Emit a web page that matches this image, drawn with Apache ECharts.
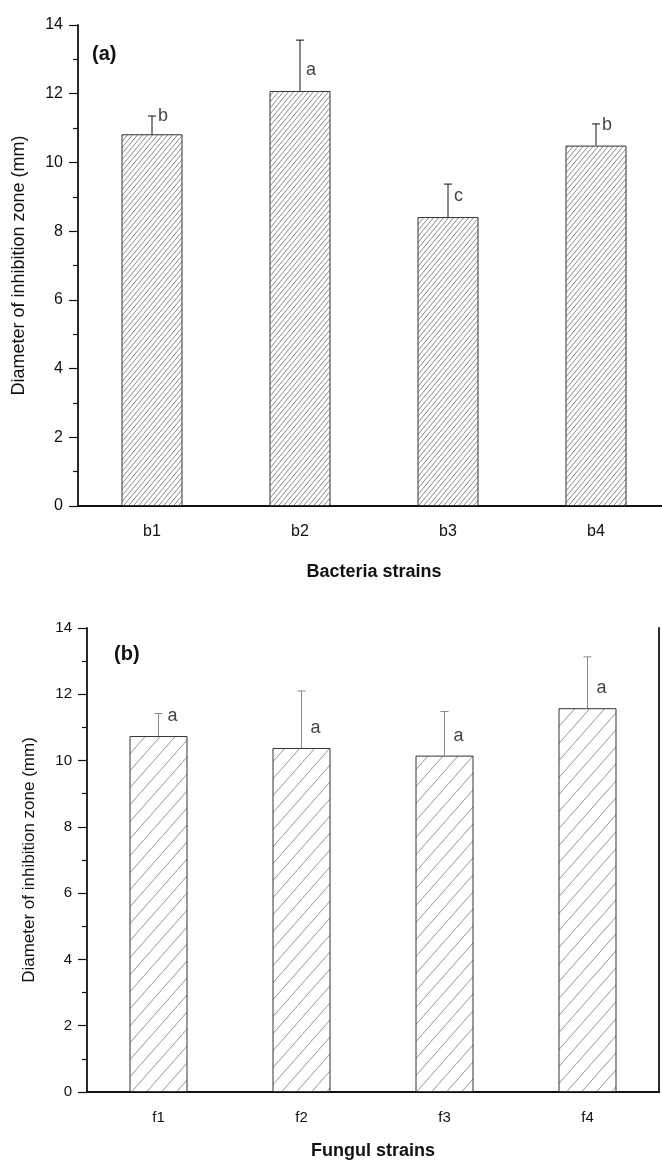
<!DOCTYPE html>
<html>
<head>
<meta charset="utf-8">
<script src="https://cdn.jsdelivr.net/npm/echarts@6/dist/echarts.min.js"></script>
<style>
html,body{margin:0;padding:0;background:#fff;overflow:hidden;width:662px;height:1161px;}
#c{width:700px;height:1161px;}
</style>
</head>
<body>
<div id="c"></div>
<script>
// Panel (a): bacteria strains
const catsA = ['b1', 'b2', 'b3', 'b4'];
const meanA = [10.82, 12.08, 8.41, 10.49];
const errA = [0.53, 1.48, 0.96, 0.63];
const letA = ['b', 'a', 'c', 'b'];
// Panel (b): fungal strains
const catsB = ['f1', 'f2', 'f3', 'f4'];
const meanB = [10.74, 10.38, 10.15, 11.58];
const errB = [0.68, 1.72, 1.33, 1.55];
const letB = ['a', 'a', 'a', 'a'];
// Y axis ticks
const yMin = 0, yMax = 14, yStep = 2;
const yTitle = 'Diameter of inhibition zone (mm)';

function hatch(w, h, color, lw) {
  const c = document.createElement('canvas');
  c.width = w; c.height = h;
  const g = c.getContext('2d');
  g.fillStyle = '#fff'; g.fillRect(0, 0, w, h);
  g.strokeStyle = color; g.lineWidth = lw;
  for (let k = -1; k <= 1; k++) {
    g.beginPath();
    g.moveTo(k * w, h);
    g.lineTo(k * w + w, 0);
    g.stroke();
  }
  return c;
}
const patA = hatch(5, 6, '#7a7a7a', 0.9);
const patB = hatch(15, 17, '#8a8a8a', 0.9);

const font = 'Liberation Sans, Arial, sans-serif';

function errRender(color) {
  return function (params, api) {
    const x = api.value(0), m = api.value(1), e = api.value(2);
    const b = api.coord([x, m]);
    const t = api.coord([x, m + e]);
    const st = { stroke: color, lineWidth: 1 };
    return {
      type: 'group', children: [
        { type: 'line', shape: { x1: b[0], y1: b[1], x2: t[0], y2: t[1] }, style: st },
        { type: 'line', shape: { x1: t[0] - 4, y1: t[1], x2: t[0] + 4, y2: t[1] }, style: st }
      ]
    };
  };
}

function xAx(idx, cats, name, gap, fs) {
  return [{
    type: 'category', gridIndex: idx, data: cats, position: 'bottom',
    axisLine: { lineStyle: { color: '#111', width: 1.8 } },
    axisTick: { alignWithLabel: true, length: 10, lineStyle: { color: '#111', width: 1.2 } },
    axisLabel: { color: '#111', fontSize: fs, fontFamily: font, margin: 18 },
    name: name, nameLocation: 'middle', nameGap: gap,
    nameTextStyle: { color: '#111', fontSize: 18, fontWeight: 'bold', fontFamily: font }
  }, {
    type: 'category', gridIndex: idx, data: cats, position: 'top',
    axisLine: { lineStyle: { color: '#111', width: 1.8 } },
    axisTick: { show: false }, axisLabel: { show: false }
  }];
}
function yAx(idx, gap, fs, nfs) {
  return [{
    type: 'value', gridIndex: idx, min: yMin, max: yMax, interval: yStep, position: 'left',
    axisLine: { show: true, lineStyle: { color: '#111', width: 1.8 } },
    axisTick: { show: true, length: 9, lineStyle: { color: '#111', width: 1.2 } },
    minorTick: { show: true, splitNumber: 2, length: 5, lineStyle: { color: '#111', width: 1.2 } },
    splitLine: { show: false },
    axisLabel: { color: '#111', fontSize: fs, fontFamily: font, margin: 15 },
    name: yTitle, nameLocation: 'middle', nameGap: gap, nameRotate: 90,
    nameTextStyle: { color: '#111', fontSize: nfs, fontFamily: font }
  }, {
    type: 'value', gridIndex: idx, min: yMin, max: yMax, interval: yStep, position: 'right',
    axisLine: { show: true, lineStyle: { color: '#111', width: 1.8 } },
    axisTick: { show: false }, axisLabel: { show: false }, splitLine: { show: false }
  }];
}

function panel(idx, cats, mean, err, lets, pat, bw, errColor, labDist, fs) {
  const xi = idx * 2, yi = idx * 2;
  return [
    {
      type: 'bar', xAxisIndex: xi, yAxisIndex: yi, data: mean, barWidth: bw,
      itemStyle: { color: { image: pat, repeat: 'repeat' }, borderColor: '#333', borderWidth: 1 },
      silent: true, animation: false
    },
    {
      type: 'custom', xAxisIndex: xi, yAxisIndex: yi, renderItem: errRender(errColor),
      data: cats.map((c, i) => [i, mean[i], err[i]]), silent: true, animation: false, z: 5
    },
    {
      type: 'scatter', xAxisIndex: xi, yAxisIndex: yi, symbolSize: 2,
      itemStyle: { color: 'rgba(0,0,0,0)' },
      data: cats.map((c, i) => [i, mean[i] + Math.min(err[i], 0.6)]),
      label: {
        show: true, position: 'right', distance: labDist, color: '#111',
        fontSize: fs, fontFamily: font, formatter: p => lets[p.dataIndex]
      },
      labelLayout: { hideOverlap: false },
      silent: true, animation: false, z: 6
    }
  ];
}

const chart = echarts.init(document.getElementById('c'), null, { renderer: 'canvas' });
chart.setOption({
  animation: false,
  backgroundColor: '#fff',
  title: [
    { text: '(a)', left: 92, top: 44, padding: 0, textStyle: { fontSize: 20, fontWeight: 'bold', color: '#111', fontFamily: font } },
    { text: '(b)', left: 114, top: 644, padding: 0, textStyle: { fontSize: 20, fontWeight: 'bold', color: '#111', fontFamily: font } }
  ],
  grid: [
    { left: 78, top: 25, width: 592, height: 481 },
    { left: 87, top: 628, width: 572, height: 466 }
  ],
  xAxis: [...xAx(0, catsA, 'Bacteria strains', 57, 16), ...xAx(1, catsB, 'Fungul strains', 50, 15)],
  yAxis: [...yAx(0, 50, 16, 18), ...yAx(1, 49, 15, 17)],
  series: [
    ...panel(0, catsA, meanA, errA, letA, patA, 61, '#111', 5, 18),
    ...panel(1, catsB, meanB, errB, letB, patB, 58, '#8a8a8a', 8, 18)
  ]
});
</script>
</body>
</html>
